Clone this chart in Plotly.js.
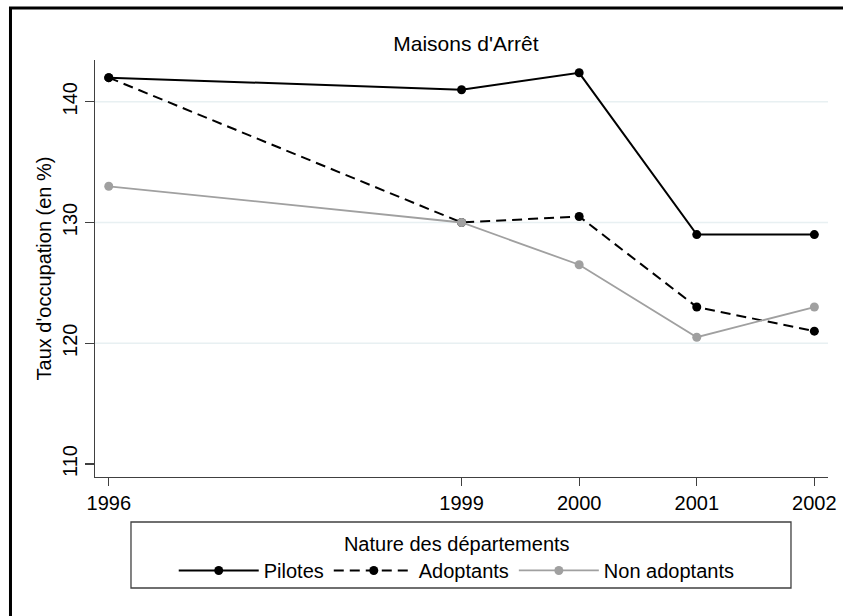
<!DOCTYPE html>
<html>
<head>
<meta charset="utf-8">
<script src="https://cdn.plot.ly/plotly-3.0.1.min.js"></script>
<style>
html,body{margin:0;padding:0;background:#fff;}
#chart{width:843px;height:616px;}
</style>
</head>
<body>
<div id="chart"></div>
<script>
// ---- data ----
const years = [1996, 1999, 2000, 2001, 2002];
const yearLabels = ["1996", "1999", "2000", "2001", "2002"];
const pilotes = [142, 141, 142.4, 129, 129];
const adoptants = [142, 130, 130.5, 123, 121];
const nonAdoptants = [133, 130, 126.5, 120.5, 123];
const seriesNames = ["Pilotes", "Adoptants", "Non adoptants"];
const yTicks = [110, 120, 130, 140];
const gridVals = [120, 130, 140];

const FONT = "Liberation Sans, Arial, sans-serif";

const traces = [
  {x: years, y: pilotes, name: seriesNames[0], mode: "lines+markers",
   line: {color: "#000000", width: 2}, marker: {color: "#000000", size: 9}},
  {x: years, y: adoptants, name: seriesNames[1], mode: "lines+markers",
   line: {color: "#000000", width: 2, dash: "10px,6px"}, marker: {color: "#000000", size: 9}},
  {x: years, y: nonAdoptants, name: seriesNames[2], mode: "lines+markers",
   line: {color: "#a0a0a0", width: 1.8}, marker: {color: "#a0a0a0", size: 9}}
];

const shapes = gridVals.map(v => ({
  type: "line", xref: "paper", yref: "y", x0: 0, x1: 1, y0: v, y1: v,
  line: {color: "#e8f0f2", width: 1.4}, layer: "below"
}));
// outer frame
shapes.push({type: "rect", xref: "paper", yref: "paper",
  x0: -0.1153, x1: 1.2, y0: -0.6, y1: 1.1247,
  line: {color: "#000000", width: 3}, fillcolor: "rgba(0,0,0,0)", layer: "above"});
// legend frame
shapes.push({type: "rect", xref: "paper", yref: "paper",
  x0: 0.0491, x1: 0.9495, y0: -0.2662, y1: -0.1079,
  line: {color: "#404040", width: 1.3}, fillcolor: "rgba(0,0,0,0)", layer: "above"});

const layout = {
  width: 843, height: 616,
  margin: {l: 95, r: 15, t: 60, b: 139},
  paper_bgcolor: "#ffffff", plot_bgcolor: "#ffffff",
  font: {family: FONT, size: 20, color: "#000000"},
  title: {text: "Maisons d'Arrêt", font: {family: FONT, size: 21, color: "#000000"},
          x: 0.506, xref: "paper", xanchor: "center", y: 0.929, yref: "container", yanchor: "middle"},
  xaxis: {
    range: [1995.883, 2002.116], tickvals: years, ticktext: yearLabels,
    showgrid: false, zeroline: false,
    showline: true, linecolor: "#404040", linewidth: 1.3,
    ticks: "outside", ticklen: 8, tickwidth: 1.3, tickcolor: "#404040",
    tickfont: {family: FONT, size: 20, color: "#000000"}
  },
  yaxis: {
    range: [108.92, 143.46], tickvals: yTicks,
    showgrid: false, zeroline: false,
    showline: true, linecolor: "#404040", linewidth: 1.3,
    ticks: "outside", ticklen: 9, tickwidth: 1.3, tickcolor: "#404040",
    tickangle: -90,
    tickfont: {family: FONT, size: 20, color: "#000000"},
    title: {text: "Taux d'occupation (en %)", font: {family: FONT, size: 20, color: "#000000"}, standoff: 1}
  },
  showlegend: true,
  legend: {
    orientation: "h", x: 0.4935, xanchor: "center", y: -0.115, yanchor: "top",
    bgcolor: "rgba(0,0,0,0)", borderwidth: 0,
    font: {family: FONT, size: 20, color: "#000000"},
    title: {text: "Nature des départements", side: "top center", font: {family: FONT, size: 20, color: "#000000"}},
    itemwidth: 80, traceorder: "normal"
  },
  shapes: shapes
};

Plotly.newPlot("chart", traces, layout, {displayModeBar: false, staticPlot: true});
</script>
</body>
</html>
